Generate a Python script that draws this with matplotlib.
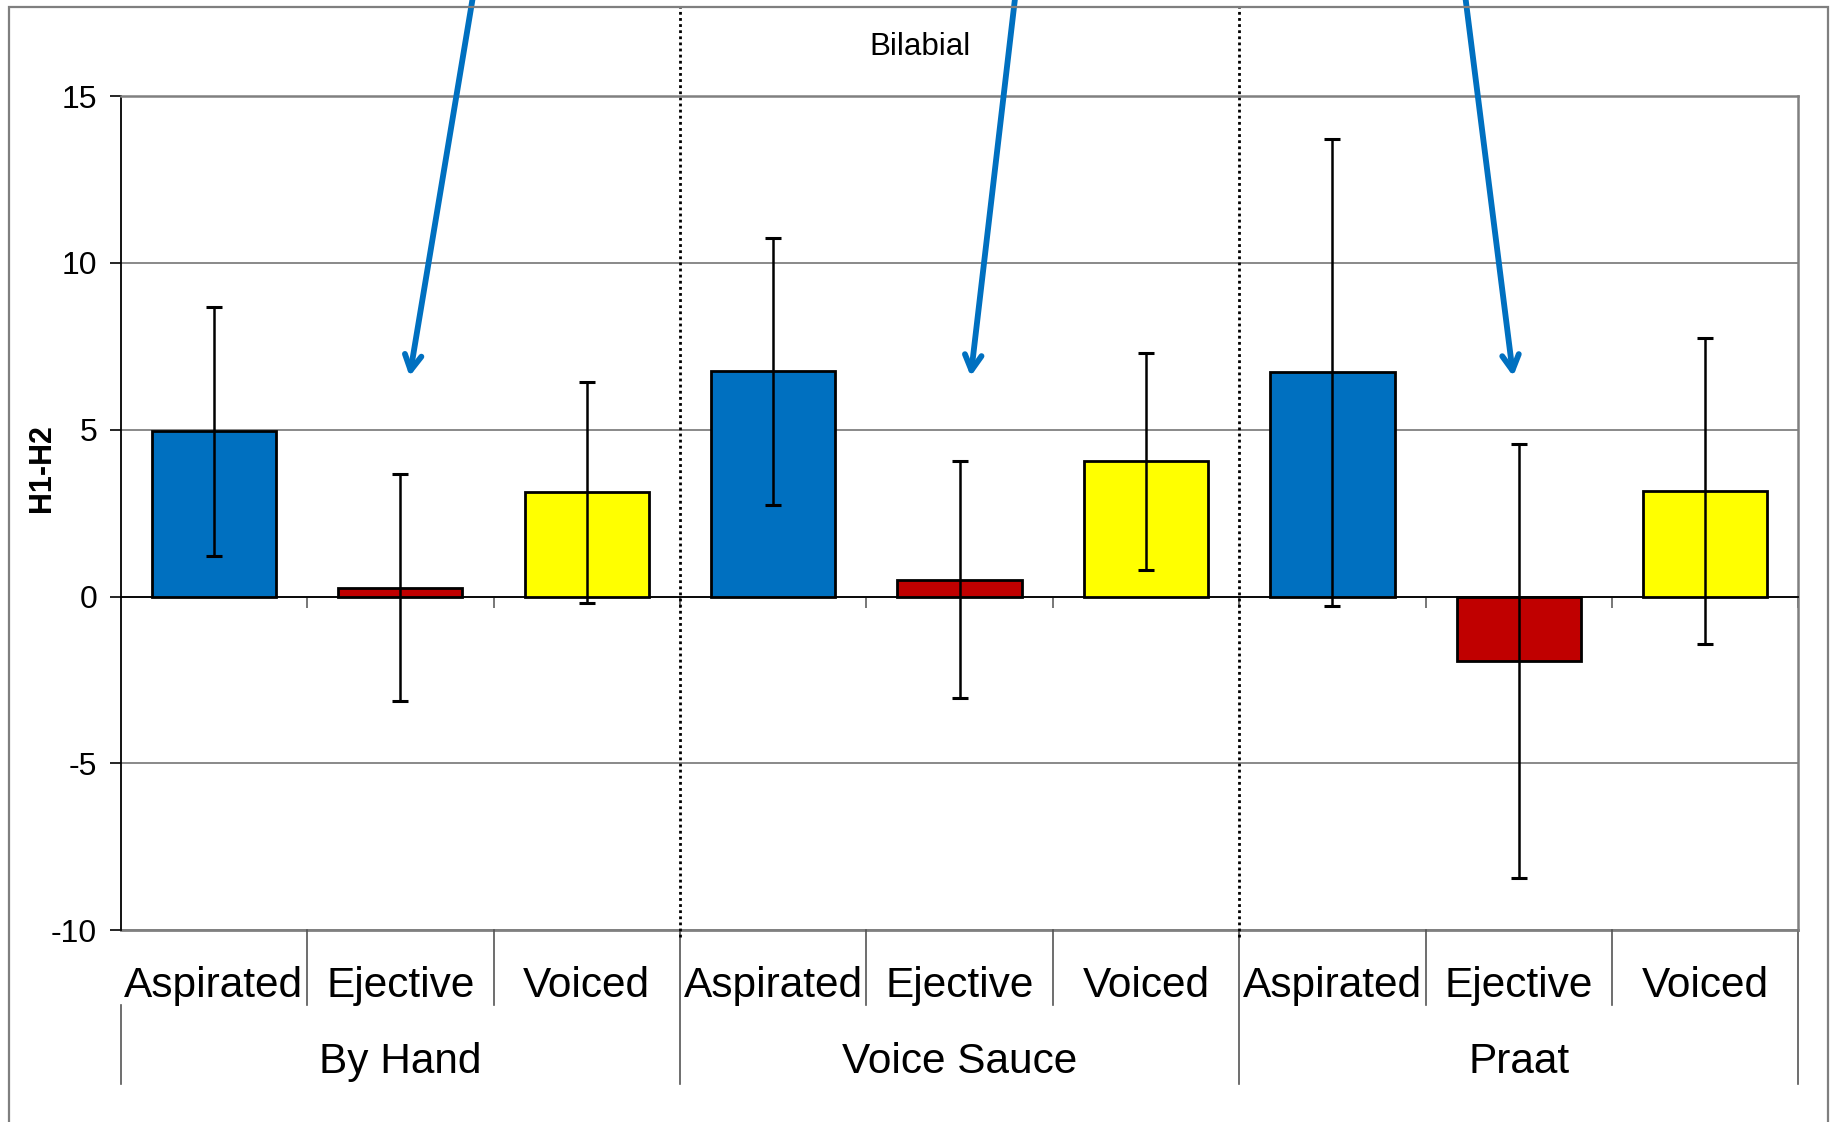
import matplotlib
matplotlib.use("Agg")
import matplotlib.pyplot as plt
import matplotlib.transforms as mtransforms
from matplotlib.patches import Rectangle

plt.rcParams["font.family"] = ["Liberation Sans", "DejaVu Sans"]
plt.rcParams["axes.unicode_minus"] = False

# ── data ──────────────────────────────────────────────────────────────────────
methods = ["By Hand", "Voice Sauce", "Praat"]
stops = ["Aspirated", "Ejective", "Voiced"]
h1h2_mean = [4.95, 0.27, 3.12,   6.75, 0.50, 4.05,   6.72, -1.93, 3.17]
h1h2_err = [3.72, 3.40, 3.32,    4.00, 3.55, 3.25,   7.00, 6.50, 4.58]
stop_colors = {"Aspirated": "#0070C0", "Ejective": "#C00000", "Voiced": "#FFFF00"}
# arrows pointing at the ejective bars: (tip dx, tip y, start dx, start y) relative to bar index
arrow_offsets = [(0.05, 6.6, 0.42, 19.0), (0.06, 6.6, 0.32, 19.0), (-0.03, 6.6, -0.31, 19.0)]

labels = [s for _ in methods for s in stops]
xs = list(range(len(labels)))
W, H = 1837, 1122

fig = plt.figure(figsize=(W / 100, H / 100), dpi=100)
ax = fig.add_axes([120.7 / W, 1 - 930.2 / H, (1798.4 - 120.7) / W, (930.2 - 96.1) / H])

# outer chart frame
fig.add_artist(Rectangle((9.4 / W, -0.05), (1828 - 9.4) / W, 1.05 - 7 / H,
                         transform=fig.transFigure, fill=False, ec="#7f7f7f", lw=1.6))

ax.bar(xs, h1h2_mean, width=0.667, color=[stop_colors[s] for s in labels],
       edgecolor="black", lw=2.0, zorder=3)
ax.errorbar(xs, h1h2_mean, yerr=h1h2_err, fmt="none", ecolor="black",
            elinewidth=1.8, capsize=5.5, capthick=2.2, zorder=4)

ax.set_xlim(-0.5, len(labels) - 0.5)
ax.set_ylim(-10, 15)
ax.set_yticks([-10, -5, 0, 5, 10, 15])
ax.yaxis.grid(True, color="#808080", lw=1.3, zorder=0)
ax.set_axisbelow(True)
ax.tick_params(axis="y", length=8, width=1.2, pad=9, labelsize=23, color="black")

# Excel-style category axis sitting on y = 0
ax.spines["bottom"].set_position(("data", 0))
ax.spines["bottom"].set_color("black")
ax.spines["bottom"].set_linewidth(1.3)
ax.set_xticks([x + 0.5 for x in xs])
ax.tick_params(axis="x", length=8, width=1.2, color="#606060", labelbottom=False)
for side in ("top", "right"):
    ax.spines[side].set_color("#808080")
    ax.spines[side].set_linewidth(1.8)
ax.spines["left"].set_color("black")
ax.spines["left"].set_linewidth(1.3)
ax.axhline(-10, color="#808080", lw=2, clip_on=False, zorder=1)

# multi-level category labels below the plot
tr = mtransforms.blended_transform_factory(ax.transData, ax.transAxes)
for x, lab in zip(xs, labels):
    ax.text(x, -0.067, lab, transform=tr, ha="center", va="center", fontsize=30.5)
for g, name in enumerate(methods):
    ax.text(3 * g + 1, -0.158, name, transform=tr, ha="center", va="center", fontsize=30.5)
for x in xs[:-1]:
    xb = x + 0.5
    if (x + 1) % 3:
        ax.plot([xb, xb], [0, -0.09], transform=tr, color="#555555", lw=1.2, clip_on=False)
for g in range(len(methods) + 1):
    xb = 3 * g - 0.5
    y0 = -0.09 if g == 0 else 0
    ax.plot([xb, xb], [y0, -0.184], transform=tr, color="#555555", lw=1.2, clip_on=False)

# dotted dividers between methods, reaching the chart frame
for g in (1, 2):
    ax.plot([3 * g - 0.5] * 2, [-0.008, 1.107], transform=tr, color="black",
            ls=(0, (1, 1.2)), lw=2, clip_on=False, zorder=2)

fig.text(42 / W, 1 - 468 / H, "H1-H2", rotation=90, ha="center", va="center",
         fontsize=22, fontweight="bold")
fig.text(919.7 / W, 1 - 47 / H, "Bilabial", ha="center", va="center", fontsize=22.5)

# blue arrows to the ejective bars
for g, (tdx, ty, sdx, sy) in enumerate(arrow_offsets):
    xe = 3 * g + 1
    ax.annotate("", xy=(xe + tdx, ty), xytext=(xe + sdx, sy), xycoords="data",
                annotation_clip=False,
                arrowprops=dict(arrowstyle="->,head_length=1.1,head_width=0.6",
                                color="#0070C0", lw=4.2, shrinkA=0, shrinkB=0))

fig.savefig("out.png", dpi=100)
